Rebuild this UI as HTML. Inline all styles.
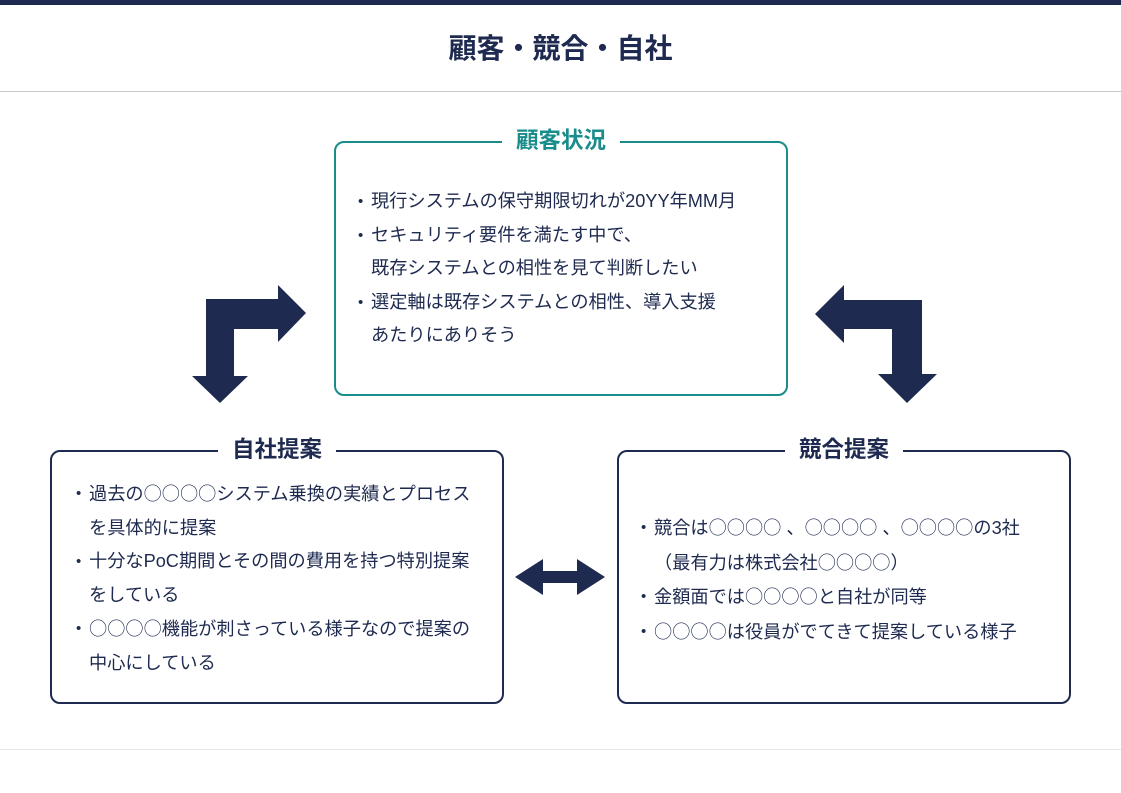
<!DOCTYPE html>
<html><head><meta charset="utf-8"><style>
*{margin:0;padding:0;box-sizing:border-box}
body{width:1121px;height:793px;background:#fff;position:relative;overflow:hidden;font-family:"Liberation Sans","Noto Sans CJK JP",sans-serif;color:#1e2a4f}
.topbar{position:absolute;left:0;top:0;width:1121px;height:5px;background:#1e2a4f}
h1{position:absolute;top:29px;left:0;width:1121px;text-align:center;font-size:28px;font-weight:bold;line-height:40px}
.hr{position:absolute;left:0;width:1121px;height:1px}
.box{position:absolute;border:2px solid #1e2a4f;border-radius:10px}
.box .t{position:absolute;top:-17px;left:0;width:100%;text-align:center;font-size:22.5px;font-weight:bold;line-height:30px}
.box .t span{background:#fff;padding:0 14px}
ul{list-style:none;position:absolute;font-size:18.2px;line-height:33.6px;white-space:nowrap}
li{position:relative;padding-left:13px}
li:before{content:"•";position:absolute;left:0;font-size:15px}
.c{font-family:"Noto Sans CJK JP",sans-serif;font-weight:300}
</style></head><body>
<div class="topbar"></div>
<h1>顧客・競合・自社</h1>
<div class="hr" style="top:91px;background:#c8c8cc"></div>
<div class="hr" style="top:749px;background:#e8e8ea"></div>

<div class="box" style="left:334px;top:141px;width:454px;height:255px;border-color:#1a8c8c">
<div class="t" style="color:#1a8c8c"><span>顧客状況</span></div>
<ul style="left:22px;top:42px"><li>現行システムの保守期限切れが20YY年MM月</li><li>セキュリティ要件を満たす中で、<br>既存システムとの相性を見て判断したい</li><li>選定軸は既存システムとの相性、導入支援<br>あたりにありそう</li></ul>
</div>

<div class="box" style="left:50px;top:450px;width:454px;height:254px">
<div class="t"><span>自社提案</span></div>
<ul style="left:24px;top:25px"><li>過去の<span class="c">○○○○</span>システム乗換の実績とプロセス<br>を具体的に提案</li><li>十分なPoC期間とその間の費用を持つ特別提案<br>をしている</li><li><span class="c">○○○○</span>機能が刺さっている様子なので提案の<br>中心にしている</li></ul>
</div>

<div class="box" style="left:617px;top:450px;width:454px;height:254px">
<div class="t"><span>競合提案</span></div>
<ul style="left:22px;top:59px"><li>競合は<span class="c">○○○○</span> 、<span class="c">○○○○</span> 、<span class="c">○○○○</span>の3社<br>（最有力は株式会社<span class="c">○○○○</span>）</li><li>金額面では<span class="c">○○○○</span>と自社が同等</li><li><span class="c">○○○○</span>は役員がでてきて提案している様子</li></ul>
</div>

<svg width="1121" height="793" style="position:absolute;left:0;top:0" fill="#1e2a4f">
<polygon points="206,299 278,299 278,285 306,313 278,342 278,329 234,329 234,376 248,376 220,403 192,376 206,376"/>
<polygon points="922,300 844,300 844,285 815,314 844,343 844,329 892,329 892,374 878,374 907,403 937,374 922,374"/>
<polygon points="515,577 543,559 543,571 577,571 577,559 605,577 577,595 577,583 543,583 543,595"/>
</svg>
</body></html>
